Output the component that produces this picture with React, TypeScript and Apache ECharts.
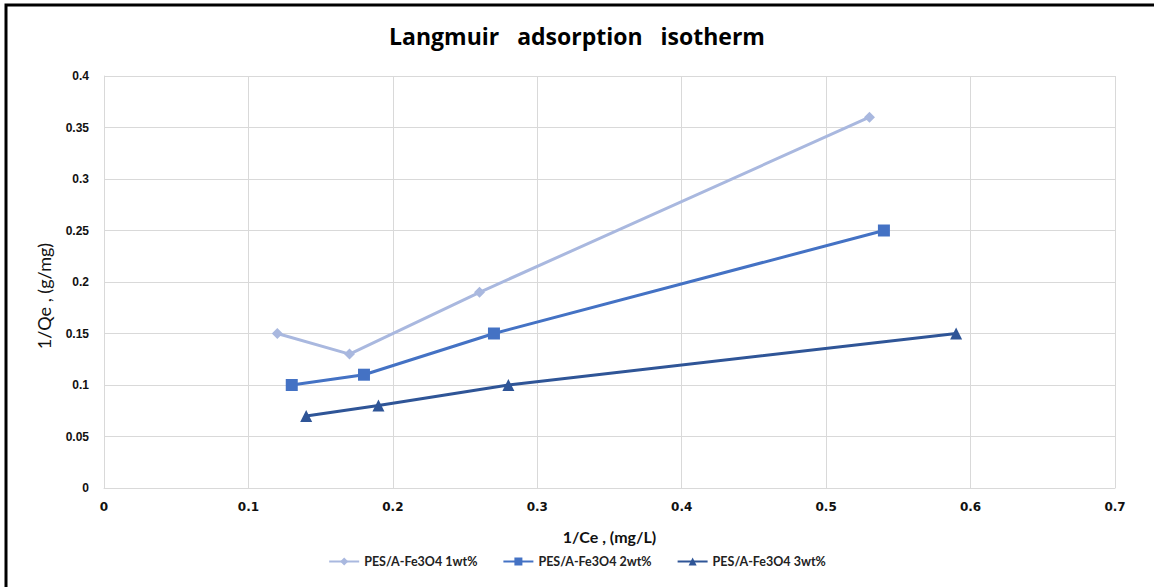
import React, { useEffect, useRef } from "react";
import * as echarts from "echarts";

const seriesNames = ["PES/A-Fe3O4 1wt%", "PES/A-Fe3O4 2wt%", "PES/A-Fe3O4 3wt%"];
const x1 = [0.12, 0.17, 0.26, 0.53];
const y1 = [0.15, 0.13, 0.19, 0.36];
const x2 = [0.13, 0.18, 0.27, 0.54];
const y2 = [0.10, 0.11, 0.15, 0.25];
const x3 = [0.14, 0.19, 0.28, 0.59];
const y3 = [0.07, 0.08, 0.10, 0.15];

const colors = ["#A9B8DF", "#4472C4", "#2F5597"];
const symbols = ["diamond", "rect", "triangle"];
const symbolSizes = [11, 12, 12];

function pairs(xs: number[], ys: number[]) {
  return xs.map((x, i) => [x, ys[i]]);
}

export default function App() {
  const ref = useRef<HTMLDivElement>(null);
  useEffect(() => {
    if (!ref.current) return;
    const chart = echarts.init(ref.current, null, { renderer: "svg" });
    const xsAll = [x1, x2, x3];
    const ysAll = [y1, y2, y3];
    chart.setOption({
      animation: false,
      backgroundColor: "#ffffff",
      title: {
        text: "Langmuir   adsorption   isotherm",
        left: "center",
        top: 19,
        textStyle: {
          fontFamily: "Open Sans",
          fontWeight: "bold",
          fontSize: 23,
          color: "#000000",
        },
      },
      graphic: [
        {
          type: "polyline",
          shape: { points: [[6, 587], [6, 5], [1154, 5]] },
          style: { stroke: "#000000", lineWidth: 3, fill: "none" },
          silent: true,
        },
        {
          type: "text",
          x: 44,
          y: 296,
          rotation: Math.PI / 2,
          style: {
            text: "1/Qe , (g/mg)",
            fontFamily: "Lato",
            fontSize: 18,
            fill: "#111111",
            align: "center",
            verticalAlign: "middle",
          },
          silent: true,
        },
      ],
      legend: {
        bottom: 14,
        left: "center",
        itemWidth: 30,
        itemHeight: 10,
        itemGap: 25,
        textStyle: {
          fontFamily: "Lato",
          fontWeight: "bold",
          fontSize: 12.5,
          color: "#222222",
        },
        data: seriesNames,
      },
      grid: { left: 104, right: 39, top: 76, bottom: 99 },
      xAxis: {
        type: "value",
        min: 0,
        max: 0.7,
        interval: 0.1,
        name: "1/Ce , (mg/L)",
        nameLocation: "middle",
        nameGap: 40,
        nameTextStyle: {
          fontFamily: "Lato",
          fontWeight: "bold",
          fontSize: 16,
          color: "#111111",
        },
        axisLine: { show: true, lineStyle: { color: "#D9D9D9", width: 1 } },
        axisTick: { show: false },
        splitLine: { show: true, lineStyle: { color: "#D9D9D9", width: 1 } },
        axisLabel: {
          margin: 13,
          fontFamily: "DejaVu Sans",
          fontWeight: "bold",
          fontSize: 12,
          color: "#111111",
          formatter: (v: number) => String(Math.round(v * 10) / 10),
        },
      },
      yAxis: {
        type: "value",
        min: 0,
        max: 0.4,
        interval: 0.05,
        axisLine: { show: true, lineStyle: { color: "#D9D9D9", width: 1 } },
        axisTick: { show: false },
        splitLine: { show: true, lineStyle: { color: "#D9D9D9", width: 1 } },
        axisLabel: {
          margin: 15,
          fontFamily: "Liberation Sans",
          fontWeight: "bold",
          fontSize: 12,
          color: "#111111",
          formatter: (v: number) => String(Math.round(v * 100) / 100),
        },
      },
      series: seriesNames.map((name, i) => ({
        name,
        type: "line",
        data: pairs(xsAll[i], ysAll[i]),
        symbol: symbols[i],
        symbolSize: symbolSizes[i],
        showAllSymbol: true,
        lineStyle: { color: colors[i], width: 3 },
        itemStyle: { color: colors[i] },
        z: 3 - i,
      })),
    });
    return () => chart.dispose();
  }, []);
  return (
    <div
      ref={ref}
      style={{ position: "fixed", left: 0, top: 0, width: 1154, height: 587 }}
    />
  );
}
